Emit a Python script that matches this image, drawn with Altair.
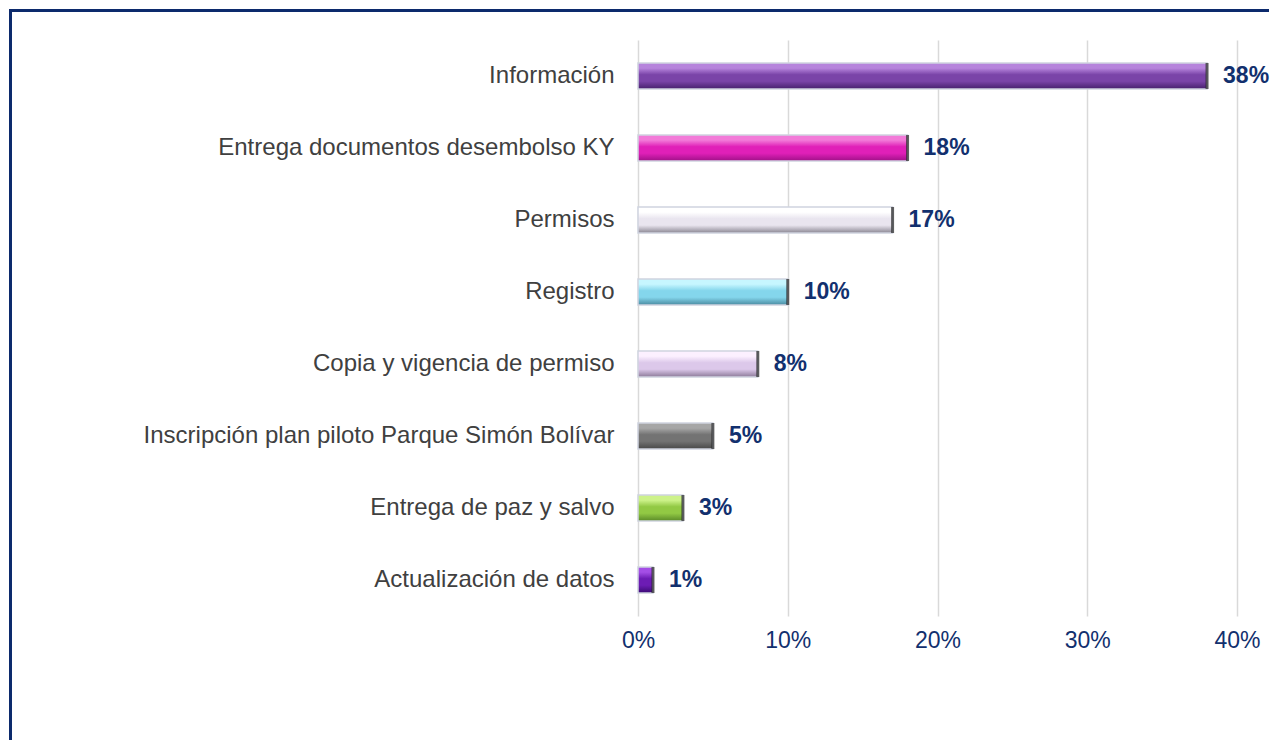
import altair as alt
import pandas as pd

categories = [
    "Información",
    "Entrega documentos desembolso KY",
    "Permisos",
    "Registro",
    "Copia y vigencia de permiso",
    "Inscripción plan piloto Parque Simón Bolívar",
    "Entrega de paz y salvo",
    "Actualización de datos",
]
values = [0.38, 0.18, 0.17, 0.10, 0.08, 0.05, 0.03, 0.01]
tick_values = [0, 0.1, 0.2, 0.3, 0.4]

# (top highlight, mid, bottom shadow) per bar
bar_colors = [
    ("#b684dc", "#7a44a8", "#46206c"),
    ("#f27ad8", "#e020b8", "#a01088"),
    ("#ffffff", "#e9e5ef", "#8a8692"),
    ("#c6f6ff", "#84d6ec", "#4a8aa0"),
    ("#fcf0ff", "#dcc8ea", "#8c7a98"),
    ("#a6a6a6", "#737373", "#484848"),
    ("#cdf28a", "#92c944", "#5a8a28"),
    ("#a44ee6", "#6c1cb4", "#3a0a72"),
]

df = pd.DataFrame({"cat": categories, "val": values})

NAVY = "#12306e"

x_enc = alt.X(
    "val:Q",
    scale=alt.Scale(domain=[0, 0.4], nice=False),
    axis=alt.Axis(
        values=tick_values,
        format=".0%",
        title=None,
        grid=True,
        gridColor="#d9d9d9",
        gridWidth=1.5,
        domain=False,
        ticks=False,
        labelFontSize=23,
        labelColor=NAVY,
        labelFont="Liberation Sans",
        labelPadding=13,
        labelFlush=False,
        labelAlign="center",
    ),
)
y_enc = alt.Y(
    "cat:N",
    sort=categories,
    scale=alt.Scale(paddingInner=0.0, paddingOuter=0.0),
    axis=alt.Axis(
        title=None,
        domain=False,
        ticks=False,
        labelFontSize=24,
        labelColor="#404040",
        labelFont="Liberation Sans",
        labelPadding=24,
        labelLimit=1000,
    ),
)

base = alt.Chart(df)

layers = []
for cat, (top, mid, bot) in zip(categories, bar_colors):
    grad = alt.Gradient(
        gradient="linear",
        stops=[
            alt.GradientStop(color=top, offset=0),
            alt.GradientStop(color=top, offset=0.2),
            alt.GradientStop(color=mid, offset=0.45),
            alt.GradientStop(color=mid, offset=0.7),
            alt.GradientStop(color=bot, offset=1),
        ],
        x1=0, x2=0, y1=0, y2=1,
    )
    layers.append(
        base.transform_filter(alt.datum.cat == cat)
        .mark_bar(size=26, color=grad, stroke="#cfd4e0", strokeWidth=1.5)
        .encode(x=x_enc, y=y_enc)
    )

end_ticks = base.mark_tick(size=26, thickness=3, color="#222222").encode(
    x="val:Q", y=alt.Y("cat:N", sort=categories)
)

labels = base.mark_text(
    align="left", baseline="middle", dx=16, fontSize=23, fontWeight="bold",
    font="Liberation Sans", color=NAVY
).encode(x="val:Q", y=alt.Y("cat:N", sort=categories), text=alt.Text("val:Q", format=".0%"))

frame_src = alt.Chart(pd.DataFrame({"a": [0]}))
frame_top = frame_src.mark_rule(stroke="#0c2a6c", strokeWidth=3).encode(
    x=alt.value(-629), x2=alt.value(631), y=alt.value(-29.5)
)
frame_left = frame_src.mark_rule(stroke="#0c2a6c", strokeWidth=3).encode(
    x=alt.value(-627.5), y=alt.value(-31), y2=alt.value(700)
)

chart = alt.layer(frame_top, frame_left, *layers, end_ticks, labels).properties(
    width=599,
    height=576,
    padding={"left": 630, "top": 32, "right": 33, "bottom": 126},
    autosize="none",
    background="white",
).configure_view(strokeWidth=0)

chart.save("out.html", embed_options={"renderer": "svg", "actions": False})
